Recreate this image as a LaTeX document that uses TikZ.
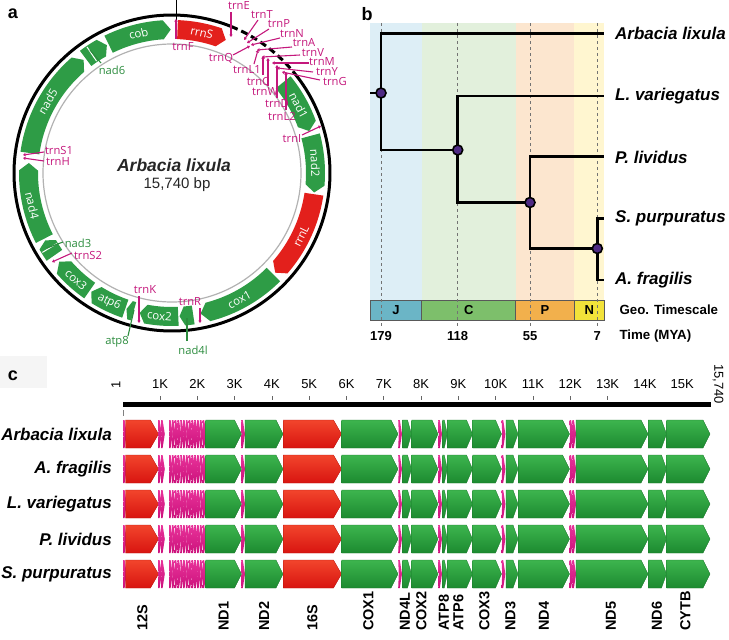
\documentclass[tikz,border=0pt]{standalone}
\usepackage{fontspec}
\setmainfont{Liberation Sans}
\newfontfamily\osf{Open Sans}
\usetikzlibrary{arrows.meta}
\definecolor{bandG}{HTML}{2E9C46}
\definecolor{bandR}{HTML}{E3201C}
\definecolor{pk}{HTML}{C4187C}
\definecolor{gl}{HTML}{2C8C3E}
\definecolor{gTop}{HTML}{3DB54E}
\definecolor{gBot}{HTML}{1C8A30}
\definecolor{rTop}{HTML}{F2452C}
\definecolor{rBot}{HTML}{D81410}
\definecolor{pTop}{HTML}{E8339A}
\definecolor{pBot}{HTML}{CC127C}
\definecolor{bgJ}{HTML}{DDEEF6}
\definecolor{bgC}{HTML}{E2F0DC}
\definecolor{bgP}{HTML}{FCE6CF}
\definecolor{bgN}{HTML}{FFF6D0}
\definecolor{tsJ}{HTML}{6BB5C6}
\definecolor{tsC}{HTML}{7DBF6B}
\definecolor{tsP}{HTML}{F2B04C}
\definecolor{tsN}{HTML}{F2E23A}
\definecolor{purp}{HTML}{4E2A84}
\newcommand\cg[4]{\fill[#3] plot[domain=#1:#2-#4,samples=30,variable=\t] ({\t-90}:153) -- ({#2-90}:143.5) -- plot[domain=#2-#4:#1,samples=30,variable=\t] ({\t-90}:134) -- cycle;}
\newcommand\gbox[5]{\path[#4] (#1,#3-14) -- (#2-#5,#3-14) -- (#2,#3) -- (#2-#5,#3+14) -- (#1,#3+14) -- cycle;}
\newcommand\tchev[2]{\path[gP] (#1,#2-14) -- (#1+1.6,#2-14) -- (#1+3.8,#2) -- (#1+1.6,#2+14) -- (#1,#2+14) -- (#1+0.6,#2) -- cycle;}
\tikzset{
  plab/.style={font=\bfseries\fontsize{18}{18}\selectfont, inner sep=0pt},
  lbl/.style={font=\osf\fontsize{11.2}{12}\selectfont, inner sep=0.5pt},
  pl/.style={lbl, text=pk},
  gll/.style={lbl, text=gl},
  pline/.style={draw=pk, line width=1.1pt, -{Triangle[length=2.5pt,width=3.2pt]}},
  gline/.style={draw=gl, line width=1.1pt},
  inband/.style={font=\osf\fontsize{11.5}{12}\selectfont, text=white, inner sep=0pt},
  tree/.style={line width=2.8pt},
  tnode/.style={circle, fill=purp, draw=black, line width=1.6pt, minimum size=10pt, inner sep=0pt},
  sp/.style={font=\bfseries\itshape\fontsize{17}{17}\selectfont, inner sep=0pt},
  tsbox/.style={draw=black!65, line width=0.8pt},
  tsl/.style={font=\bfseries\fontsize{13}{13}\selectfont},
  vdash/.style={draw=black!55, line width=0.8pt, dash pattern=on 3pt off 3pt},
  gG/.style={top color=gTop, bottom color=gBot, draw=gBot!85!black, line width=0.3pt},
  gR/.style={top color=rTop, bottom color=rBot, draw=rBot!85!black, line width=0.3pt},
  gP/.style={top color=pTop, bottom color=pBot, draw=none},
  glab/.style={font=\bfseries\fontsize{14.5}{14.5}\selectfont, rotate=90, anchor=west, inner sep=0pt},
  klab/.style={font=\fontsize{13}{13}\selectfont, inner sep=0pt}
}
\begin{document}
\begin{tikzpicture}[x=1pt,y=-1pt]
\useasboundingbox (0,0) rectangle (729,640);
% ---------- panel labels
\node[plab] (pa) at (13,14) {a};
\node[plab] (pb) at (367,14) {b};
\fill[black!4] (0,356) rectangle (47,388);
\node[plab] (pc) at (13,376) {c};
% ---------- panel a : circular map
\draw[black!30, line width=1.2pt] (172,173) circle[radius=129];
\begin{scope}[shift={(172,173)}]
  \cg{2.2}{22}{bandR}{3}
  \cg{50.8}{73}{bandG}{3}
  \cg{75}{97.8}{bandG}{3}
  \cg{98.5}{134}{bandR}{3}
  \cg{135}{168.5}{bandG}{3}
  \cg{171.5}{177}{bandG}{2}
  \cg{177.5}{193}{bandG}{2.5}
  \cg{195.5}{198.5}{bandG}{1.5}
  \cg{199}{214.2}{bandG}{2.5}
  \cg{215}{231.8}{bandG}{3}
  \cg{235}{242}{bandG}{2}
  \cg{242.8}{274}{bandG}{3}
  \cg{278}{322}{bandG}{3}
  \cg{323}{333}{bandG}{2.5}
  \cg{333.8}{359.5}{bandG}{3}
  \draw[line width=3pt] plot[domain=50:382,samples=220,variable=\t] ({\t-90}:158);
  \draw[line width=3pt, dash pattern=on 7pt off 4pt] plot[domain=22:50,samples=40,variable=\t] ({\t-90}:158);
  \draw[white, line width=1pt] ({238.5-90}:135) -- ({238.5-90}:152);
  \draw[white, line width=1pt] ({326-90}:135) -- ({326-90}:152);
  \node[inband, rotate=-12] (irrnS) at ({12-90}:143.5) {rrnS};
  \node[inband, rotate=13.5] (icob) at ({346.5-90}:143.5) {cob};
  \node[inband, rotate=60] (inad5) at ({300-90}:143.5) {nad5};
  \node[inband, rotate=-77] (inad4) at ({257-90}:143.5) {nad4};
  \node[inband, rotate=-42] (icox3) at ({222-90}:143.5) {cox3};
  \node[inband, rotate=-26] (iatp6) at ({206-90}:143.5) {atp6};
  \node[inband, rotate=-5] (icox2) at ({185-90}:143.5) {cox2};
  \node[inband, rotate=28] (icox1) at ({152-90}:143.5) {cox1};
  \node[inband, rotate=64] (irrnL) at ({116-90}:143.5) {rrnL};
  \node[inband, rotate=-87] (inad2) at ({86-90}:143.5) {nad2};
  \node[inband, rotate=-62] (inad1) at ({62-90}:143.5) {nad1};
\end{scope}
\coordinate (ori0) at (176,0);
\coordinate (ori1) at (176,26);
\draw[line width=0.8pt] (ori0) -- (ori1);
\node[font=\bfseries\itshape\fontsize{17.5}{18}\selectfont, text=black!85] (ttl) at (174,165) {Arbacia lixula};
\node[font=\fontsize{15}{15}\selectfont, text=black!85] (bp) at (177,185) {15,740 bp};
% tRNA labels (pink)
\node[pl] (tE) at (239,6) {trnE};
\node[pl] (tT) at (262,15) {trnT};
\node[pl] (tP) at (279,24) {trnP};
\node[pl] (tN) at (292,34) {trnN};
\node[pl] (tA) at (304,43) {trnA};
\node[pl] (tV) at (313,53) {trnV};
\node[pl] (tM) at (322,62) {trnM};
\node[pl] (tY) at (327,72) {trnY};
\node[pl] (tG) at (335,81) {trnG};
\node[pl] (tQ) at (221,58) {trnQ};
\node[pl] (tL1) at (247,70) {trnL1};
\node[pl] (tC) at (258,81) {trnC};
\node[pl] (tW) at (265,92) {trnW};
\node[pl] (tD) at (277,104) {trnD};
\node[pl] (tL2) at (282,116) {trnL2};
\node[pl] (tI) at (292,139) {trnI};
\node[pl] (tF) at (183,47) {trnF};
\node[pl] (tS1) at (59,150) {trnS1};
\node[pl] (tH) at (58,162) {trnH};
\node[pl] (tS2) at (88,255) {trnS2};
\node[pl] (tK) at (145,290) {trnK};
\node[pl] (tR) at (190,302) {trnR};
\node[gll] (gn6) at (112,70) {nad6};
\node[gll] (gn3) at (78,243) {nad3};
\node[gll] (ga8) at (117,342) {atp8};
\node[gll] (gn4l) at (193,350) {nad4l};
% mark coordinates
\coordinate (mE) at (231,37);   \coordinate (sE) at (231,12);
\coordinate (mT) at (244,40);   \coordinate (sT) at (258,20);
\coordinate (mP) at (247,43);   \coordinate (sP) at (269,29);
\coordinate (mN) at (251,45);   \coordinate (sN) at (280,38);
\coordinate (mA) at (257,50);   \coordinate (sA) at (292,47);
\coordinate (mV) at (262,57);   \coordinate (sV) at (300,55);
\coordinate (mM) at (272,63);   \coordinate (sM) at (309,63);
\coordinate (mY) at (277,68);   \coordinate (sY) at (313,72);
\coordinate (mG) at (282,72);   \coordinate (sG) at (320,80);
\coordinate (mQ) at (250,46);   \coordinate (sQ) at (233,55);
\coordinate (mL1) at (258,50);  \coordinate (sL1) at (254,64);
\coordinate (mC) at (263,56);   \coordinate (sC) at (263,75);
\coordinate (mW) at (268,58);   \coordinate (sW) at (268,86);
\coordinate (mD) at (277,65);   \coordinate (sD) at (277,98);
\coordinate (mL2) at (286,72);  \coordinate (sL2) at (286,110);
\coordinate (mI) at (321,126);  \coordinate (sI) at (302,135);
\coordinate (mF) at (176,19);   \coordinate (sF) at (176,39);
\coordinate (mS1) at (23,155);  \coordinate (sS1) at (44,152);
\coordinate (mH) at (23,158);   \coordinate (sH) at (44,161);
\coordinate (mS2) at (52,262);  \coordinate (sS2) at (72,253);
\coordinate (mK) at (139,323);  \coordinate (sK) at (139,296);
\coordinate (mR) at (200,323);  \coordinate (sR) at (200,308);
\coordinate (m6) at (90,50);    \coordinate (s6) at (101,63);
\coordinate (m3) at (47,248);   \coordinate (s3) at (63,242);
\coordinate (m8) at (134,310);  \coordinate (s8) at (128,336);
\coordinate (m4l) at (187,318); \coordinate (s4l) at (187,341);
\foreach \n in {E,T,P,N,A,V,M,Y,G,Q,L1,C,W,D,L2,I,F,S1,H,S2,K,R}{\draw[pline] (s\n) -- (m\n);}
\draw[gline] (s6) -- (m6);
\draw[gline] (s3) -- (m3);
\draw[gline] (s8) -- (m8);
\draw[gline] (s4l) -- (m4l);
% ---------- panel b : tree
\fill[bgJ] (370,23) rectangle (421.7,300);
\fill[bgC] (421.7,23) rectangle (515.7,300);
\fill[bgP] (515.7,23) rectangle (574.3,300);
\fill[bgN] (574.3,23) rectangle (604.3,300);
\draw[tsbox, fill=tsJ] (370,300) rectangle (421.7,320);
\draw[tsbox, fill=tsC] (421.7,300) rectangle (515.7,320);
\draw[tsbox, fill=tsP] (515.7,300) rectangle (574.3,320);
\draw[tsbox, fill=tsN] (574.3,300) rectangle (604.3,320);
\node[tsl] (tsJl) at (396,310) {J};
\node[tsl] (tsCl) at (468.7,310) {C};
\node[tsl] (tsPl) at (545,310) {P};
\node[tsl] (tsNl) at (589.3,310) {N};
\foreach \x in {381,457.7,530,597.3}{\draw[vdash] (\x,23) -- (\x,328);}
\node[tsl] (t179) at (381,336) {179};
\node[tsl] (t118) at (457.7,336) {118};
\node[tsl] (t55) at (530,336) {55};
\node[tsl] (t7) at (597.3,336) {7};
\node[tsl, anchor=west, font=\bfseries\fontsize{13.3}{13.3}\selectfont] (geo) at (616,310) {Geo. Timescale};
\node[tsl, anchor=west, font=\bfseries\fontsize{13.3}{13.3}\selectfont] (mya) at (616,336) {Time (MYA)};
\coordinate (r0) at (370,93);
\coordinate (n1) at (381,93);
\coordinate (n2) at (457.7,150);
\coordinate (n3) at (530,202.5);
\coordinate (n4) at (597.3,248.5);
\coordinate (eA) at (603,33.3);
\coordinate (eL) at (603,96);
\coordinate (eP) at (603,156.7);
\coordinate (eS) at (603,218.3);
\coordinate (eF) at (603,280);
\draw[tree] (r0) -- (n1);
\draw[tree, line cap=rect] (n1) |- (eA);
\draw[tree, line cap=rect] (n1) |- (n2);
\draw[tree, line cap=rect] (n2) |- (eL);
\draw[tree, line cap=rect] (n2) |- (n3);
\draw[tree, line cap=rect] (n3) |- (eP);
\draw[tree, line cap=rect] (n3) |- (n4);
\draw[tree, line cap=rect] (n4) |- (eS);
\draw[tree, line cap=rect] (n4) |- (eF);
\foreach \n in {n1,n2,n3,n4}{\node[tnode] at (\n) {};}
\node[sp, anchor=west] (bA) at (615,33.3) {Arbacia lixula};
\node[sp, anchor=west] (bL) at (615,96) {L. variegatus};
\node[sp, anchor=west] (bP) at (615,157) {P. lividus};
\node[sp, anchor=west] (bS) at (615,218) {S. purpuratus};
\node[sp, anchor=west] (bF) at (615,280) {A. fragilis};
% ---------- panel c : linear maps
\node[klab, rotate=90] (k1) at (116,385) {1};
\foreach \k in {1,...,15}{
  \node[klab] (k\k K) at ({122.7+37.3*\k},384) {\k K};
}
\foreach \k in {1,...,13}{\draw[black!60, line width=0.8pt] ({122.7+37.3*\k},396) -- ({122.7+37.3*\k},400);}
\node[klab, rotate=-90] (kend) at (718,384) {15,740};
\fill (123,402) rectangle (711,407);
\draw[black!50, line width=0.6pt] (123.5,410) -- (123.5,416);
\node[sp, anchor=east] (cA) at (112,434) {Arbacia lixula};
\node[sp, anchor=east] (cF) at (112,469) {A. fragilis};
\node[sp, anchor=east] (cL) at (112,504) {L. variegatus};
\node[sp, anchor=east] (cP) at (112,539) {P. lividus};
\node[sp, anchor=east] (cS) at (112,574) {S. purpuratus};
\foreach \yc in {434,469,504,539,574}{
  \tchev{123}{\yc}
  \gbox{125.5}{158.5}{\yc}{gR}{8}
  \tchev{158}{\yc}
  \tchev{161}{\yc}
  \foreach \i in {0,...,12}{\tchev{169+2.8*\i}{\yc}}
  \gbox{205.7}{241.5}{\yc}{gG}{7}
  \tchev{241.2}{\yc}
  \gbox{245}{283}{\yc}{gG}{7}
  \gbox{283.3}{341.5}{\yc}{gR}{8}
  \gbox{341.7}{398}{\yc}{gG}{7}
  \tchev{398.2}{\yc}
  \gbox{402.5}{411.5}{\yc}{gG}{4}
  \gbox{411.7}{438}{\yc}{gG}{6}
  \tchev{438.2}{\yc}
  \gbox{442.5}{447.3}{\yc}{gG}{3}
  \gbox{447.3}{472.5}{\yc}{gG}{6}
  \gbox{472.7}{501.5}{\yc}{gG}{6}
  \tchev{501.6}{\yc}
  \gbox{506}{518}{\yc}{gG}{5}
  \gbox{518.3}{569.5}{\yc}{gG}{7}
  \tchev{569.5}{\yc}
  \tchev{572.3}{\yc}
  \gbox{576}{648}{\yc}{gG}{7}
  \gbox{648.3}{666.5}{\yc}{gG}{5}
  \gbox{666.7}{710}{\yc}{gG}{7}
}
\node[glab] (l12S) at (142.5,631) {12S};
\node[glab] (lND1) at (223.6,631) {ND1};
\node[glab] (lND2) at (264,631) {ND2};
\node[glab] (l16S) at (312.4,631) {16S};
\node[glab] (lCOX1) at (368.5,631) {COX1};
\node[glab] (lND4L) at (405,631) {ND4L};
\node[glab] (lCOX2) at (421.5,631) {COX2};
\node[glab] (lATP8) at (444,631) {ATP8};
\node[glab] (lATP6) at (458.5,631) {ATP6};
\node[glab] (lCOX3) at (484.5,631) {COX3};
\node[glab] (lND3) at (510.5,631) {ND3};
\node[glab] (lND4) at (544,631) {ND4};
\node[glab] (lND5) at (611,631) {ND5};
\node[glab] (lND6) at (657,631) {ND6};
\node[glab] (lCYTB) at (685.5,631) {CYTB};
\end{tikzpicture}
\end{document}
